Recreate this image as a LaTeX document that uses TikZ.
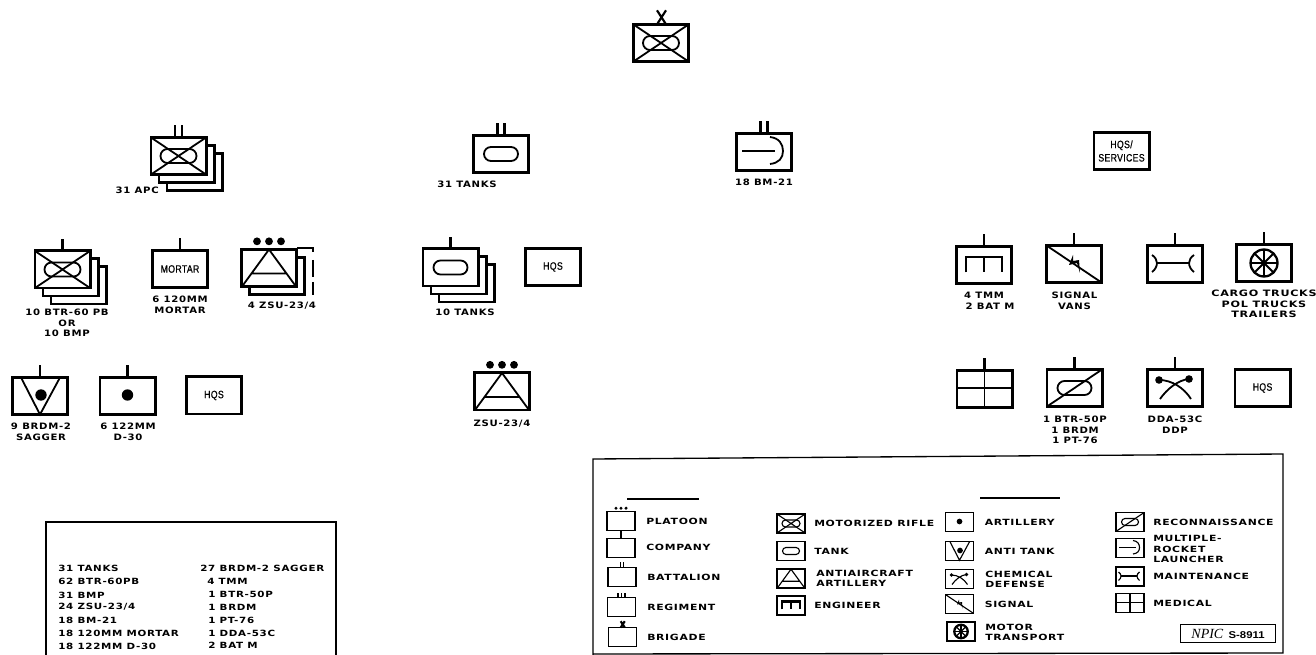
\documentclass[tikz,border=0pt]{standalone}
\usepackage{fontspec}
\setmainfont{DejaVu Sans}[FakeStretch=1.15,LetterSpace=8]
\newfontfamily\keyfont{DejaVu Sans}[FakeStretch=1.27,LetterSpace=8]
\newfontfamily\totfont{DejaVu Sans}[FakeStretch=1.21,LetterSpace=8]
\newfontfamily\thinfont{Liberation Sans}[FakeStretch=0.82,LetterSpace=3,FakeBold=0.5]
\newfontfamily\npicfont{Liberation Serif}
\newfontfamily\npicnum{Liberation Sans}[FakeStretch=1.15]
\usetikzlibrary{positioning}
\tikzset{
  every picture/.style={x=0.75pt, y=-0.75pt, line join=miter},
  unit/.style={draw, fill=white, line width=2pt, minimum width=41.5pt, minimum height=28pt, inner sep=0pt, outer sep=0pt, align=center, font=\thinfont\fontsize{8}{10}\selectfont},
  legunit/.style={draw, fill=white, line width=0.95pt, minimum width=21pt, minimum height=14.2pt, inner sep=0pt, outer sep=0pt},
  lab/.style={inner sep=0pt, align=center, font=\bfseries\fontsize{6.6}{8}\selectfont},
  leg/.style={inner sep=0pt, anchor=west, align=left, font=\keyfont\bfseries\fontsize{6.4}{7.6}\selectfont},
  tot/.style={inner sep=0pt, anchor=west, align=left, font=\totfont\bfseries\fontsize{6.4}{7.6}\selectfont},
  frame/.style={line width=1pt},
  sym/.style={line width=1.35pt},
  echelon/.style={line width=1.7pt},
  small/.style={scale=.5, sym/.style={line width=.85pt}, echelon/.style={line width=.95pt}},
  % symbols, box is 56 by 38 around the origin
  pics/mr/.style={code={
    \draw[sym] (-27.5,-18.5) -- (27.5,18.5) (-27.5,18.5) -- (27.5,-18.5);
    \draw[sym] (-11,-7) -- (11,-7) arc[start angle=-90, end angle=90, radius=7] -- (-11,7) arc[start angle=90, end angle=270, radius=7] -- cycle;
  }},
  pics/tank/.style={code={
    \draw[sym] (-10,-7) -- (10,-7) arc[start angle=-90, end angle=90, radius=7] -- (-10,7) arc[start angle=90, end angle=270, radius=7] -- cycle;
  }},
  pics/recon/.style={code={
    \draw[sym] (-27.5,18.5) -- (27.5,-18.5);
    \draw[sym] (-10,-7) -- (10,-7) arc[start angle=-90, end angle=90, radius=7] -- (-10,7) arc[start angle=90, end angle=270, radius=7] -- cycle;
  }},
  pics/aa/.style={code={
    \draw[sym] (-27,18.5) -- (0,-18.5) -- (27,18.5) (-17,5.5) -- (17,5.5);
  }},
  pics/eng/.style={code={
    \draw[sym, line width=1.8pt] (-18,7.5) -- (-18,-8) -- (18,-8) -- (18,7.5) (0,-8) -- (0,7.5);
  }},
  pics/art/.style={code={
    \fill (0,-1) circle[radius=5.7];
  }},
  pics/antitank/.style={code={
    \draw[sym] (-19,-18.5) -- (0,18.5) -- (20,-18.5);
    \fill (1,-1) circle[radius=5.7];
  }},
  pics/chem/.style={code={
    \draw[sym] (-16,-8) .. controls (-3,-8) and (9,0) .. (16,11);
    \draw[sym] (14,-9) .. controls (3,-8) and (-8,1) .. (-15,11);
    \fill (-16,-8) circle[radius=3.8] (14,-9) circle[radius=3.8];
  }},
  pics/signal/.style={code={
    \draw[sym] (-27.5,-18.5) -- (27.5,18.5);
    \fill (-1,-9) -- (-5,1) -- (3,-1) -- (6,9) -- (5,-4) -- (-1,-3) -- cycle;
  }},
  pics/wheel/.style={code={
    \draw[sym, line width=1.7pt] (0,0) circle[radius=13.5];
    \foreach \a in {0,45,...,315}
      \draw[sym] (0,0) -- (\a:13.5);
    \fill (0,0) circle[radius=2.6];
  }},
  pics/mrl/.style={code={
    \draw[sym] (-22,-1) -- (11,-1);
    \draw[sym] (6,-15) .. controls (15,-14) and (19,-8) .. (19,-1) .. controls (19,6) and (15,11) .. (6,12);
  }},
  pics/maint/.style={code={
    \draw[sym] (-18,-1) -- (14,-1);
    \draw[sym] (-23,-9) .. controls (-20,-7) and (-18,-4) .. (-18,-1) .. controls (-18,2) and (-20,6) .. (-23,8);
    \draw[sym] (19,-9) .. controls (16,-7) and (14,-4) .. (14,-1) .. controls (14,2) and (16,6) .. (19,8);
  }},
  pics/med/.style={code={
    \draw[sym] (-27.5,-1) -- (27.5,-1) (0,-18.5) -- (0,18.5);
  }},
  % echelon marks, drawn up from the top edge
  pics/coy/.style={code={\draw[echelon] (0,0) -- (0,-12);}},
  pics/bn/.style={code={\draw[echelon] (-3.5,0) -- (-3.5,-12) (3.5,0) -- (3.5,-12);}},
  pics/rgt/.style={code={\draw[echelon] (-7,0) -- (-7,-10) (0,0) -- (0,-10) (7,0) -- (7,-10);}},
  pics/plt/.style={code={\fill (-12,-8) circle[radius=3.9] (0,-8) circle[radius=3.9] (12,-8) circle[radius=3.9];}},
  pics/bde/.style={code={\draw[line width=1.6pt] (-4,-14) -- (5,0) (5,-14) -- (-4,0);}},
}
% three sheets, the front one is #1
\newcommand{\stacked}[3]{
  \node[unit] (#1c) at (#2+16,#3+16) {};
  \node[unit] (#1b) at (#2+8,#3+8) {};
  \node[unit] (#1) at (#2,#3) {};
}
\begin{document}
\begin{tikzpicture}
  \useasboundingbox (0,0) rectangle (1316,655);
  % brigade
  \node[unit] (bde) at (661,43) {};
  \pic at (bde) {mr};
  \pic at (bde.north) {bde};
  % battalions
  \stacked{mrbn}{178.5}{156}
  \pic at (mrbn) {mr};
  \pic at (mrbn.north) {bn};
  \node[lab, anchor=east] (apc) at (159,190) {31 APC};
  \node[unit] (tkbn) at (501,154) {};
  \pic at (tkbn) {tank};
  \pic at (tkbn.north) {bn};
  \node[lab] (tkbnl) at (467,184) {31 TANKS};
  \node[unit] (mrlbn) at (764,152) {};
  \pic at (mrlbn) {mrl};
  \pic at (mrlbn.north) {bn};
  \node[lab] (mrlbnl) at (764,182) {18 BM-21};
  \node[unit] (svc) at (1121.5,151) {HQS/\\SERVICES};
  % rifle battalion, second row
  \stacked{mrco}{62.5}{269.5}
  \pic at (mrco) {mr};
  \pic at (mrco.north) {coy};
  \node[lab] (mrcol) at (67,323) {10 BTR-60 PB\\OR\\10 BMP};
  \node[unit] (mort) at (180,269) {MORTAR};
  \pic at (mort.north) {coy};
  \node[lab] (mortl) at (180,305) {6 120MM\\MORTAR};
  % the third sheet is dashed
  \coordinate (zsua) at (297,248);
  \coordinate (zsub) at (313,248);
  \coordinate (zsuc) at (313,295);
  \draw[line width=2pt, dash pattern=on 15pt off 6pt on 12.75pt off 3.75pt on 9.75pt] (zsua) -- (zsub) -- (zsuc);
  \node[unit] (zsub2) at (277,276) {};
  \node[unit] (zsu) at (269,268) {};
  \pic at (zsu) {aa};
  \pic at (zsu.north) {plt};
  \node[lab] (zsul) at (282,306) {4 ZSU-23/4};
  % rifle battalion, third row
  \node[unit] (sag) at (40,396) {};
  \pic at (sag) {antitank};
  \pic at (sag.north) {coy};
  \node[lab] (sagl) at (41,431.5) {9 BRDM-2\\SAGGER};
  \node[unit] (dth) at (127.5,396) {};
  \pic at (dth) {art};
  \pic at (dth.north) {coy};
  \node[lab] (dthl) at (128,431.5) {6 122MM\\D-30};
  \node[unit] (hqa) at (214,395.5) {HQS};
  % tank battalion
  \stacked{tkco}{450.5}{267.5}
  \pic at (tkco) {tank};
  \pic at (tkco.north) {coy};
  \node[lab] (tkcol) at (465,312) {10 TANKS};
  \node[unit] (hqb) at (553,267) {HQS};
  \node[unit] (zsb) at (502,391.5) {};
  \pic at (zsb) {aa};
  \pic at (zsb.north) {plt};
  \node[lab] (zsbl) at (502,424) {ZSU-23/4};
  % services, upper row
  \node[unit] (tmm) at (984,265) {};
  \pic at (tmm) {eng};
  \pic at (tmm.north) {coy};
  \node[lab] (tmma) at (984,295) {4 TMM};
  \node[lab] (tmmb) at (990,306) {2 BAT M};
  \node[unit] (sig) at (1074,264) {};
  \pic at (sig) {signal};
  \pic at (sig.north) {coy};
  \node[lab] (sigl) at (1074.5,300.5) {SIGNAL\\VANS};
  \node[unit] (mnt) at (1175,264) {};
  \pic at (mnt) {maint};
  \pic at (mnt.north) {coy};
  \node[unit] (trn) at (1264,263) {};
  \pic at (trn) {wheel};
  \pic at (trn.north) {coy};
  \node[lab, font=\keyfont\bfseries\fontsize{6.6}{8}\selectfont] (trnl) at (1264,304) {CARGO TRUCKS\\POL TRUCKS\\TRAILERS};
  % services, lower row
  \node[unit] (med) at (984.5,389) {};
  \pic at (med) {med};
  \pic at (med.north) {coy};
  \node[unit] (rec) at (1074.5,388) {};
  \pic at (rec) {recon};
  \pic at (rec.north) {coy};
  \node[lab] (recl) at (1075,430) {1 BTR-50P\\1 BRDM\\1 PT-76};
  \node[unit] (chm) at (1175,388) {};
  \pic at (chm) {chem};
  \pic at (chm.north) {coy};
  \node[lab] (chml) at (1175,425) {DDA-53C\\DDP};
  \node[unit] (hqc) at (1262.5,388) {HQS};
  % totals
  \draw[frame] (46,655) -- (46,522) -- (336,522) -- (336,655);
  \foreach \n/\y/\t in {a/568/31 TANKS, b/581/62 BTR-60PB, c/595/31 BMP, d/607/{24 ZSU-23/4}, e/620/18 BM-21, f/633/18 120MM MORTAR, g/646/18 122MM D-30}
    \node[tot] (tl\n) at (58,\y) {\t};
  \node[tot] (tra) at (200,568) {27 BRDM-2 SAGGER};
  \foreach \n/\y/\x/\t in {b/581/207/4 TMM, c/594/208/1 BTR-50P, d/607/208/1 BRDM, e/620/208/1 PT-76, f/633/208/1 DDA-53C, g/645/208/2 BAT M}
    \node[tot] (tr\n) at (\x,\y) {\t};
  % key
  \draw[frame] (593,655) -- (593,459) -- (1283,454) -- (1283,653) -- (593,654);
  \draw[frame] (627,499) -- (699,499);
  \draw[frame] (980,498) -- (1060,498);
  \node[legunit] (kplt) at (621,521) {};
  \pic[scale=.42] at (kplt.north) {plt};
  \node[leg] (kpltl) at (646,521) {PLATOON};
  \node[legunit] (kcoy) at (621,548) {};
  \draw[line width=0.95pt] (kplt) -- (kcoy);
  \node[leg] (kcoyl) at (646,547) {COMPANY};
  \node[legunit] (kbn) at (622,577) {};
  \pic[small] at (kbn.north) {bn};
  \node[leg] (kbnl) at (647,577) {BATTALION};
  \node[legunit] (krg) at (621.5,607) {};
  \pic[small] at (krg.north) {rgt};
  \node[leg] (krgl) at (647,607) {REGIMENT};
  \node[legunit] (kbd) at (622.5,637) {};
  \pic[scale=.45] at (kbd.north) {bde};
  \node[leg] (kbdl) at (647,637) {BRIGADE};
  % first column
  \foreach \n/\p/\y/\t in {mr/mr/523.5/MOTORIZED RIFLE, tk/tank/551/TANK, eg/eng/605.5/ENGINEER}{
    \node[legunit] (k\n) at (791,\y) {};
    \pic[small] at (k\n) {\p};
    \node[leg] (k\n l) at (814,\y) {\t};
  }
  \node[legunit] (kaa) at (791,578.5) {};
  \pic[small] at (kaa) {aa};
  \node[leg] (kaal) at (816,578) {ANTIAIRCRAFT\\ARTILLERY};
  % second column
  \foreach \n/\p/\y/\t in {ar/art/522/ARTILLERY, at/antitank/551/ANTI TANK, sg/signal/604/SIGNAL}{
    \node[legunit] (k\n) at (959.5,\y) {};
    \pic[small] at (k\n) {\p};
    \node[leg] (k\n l) at (984.5,\y) {\t};
  }
  \node[legunit] (kch) at (959.5,579) {};
  \pic[small] at (kch) {chem};
  \node[leg] (kchl) at (985,579) {CHEMICAL\\DEFENSE};
  \node[legunit] (kmt) at (961,631.5) {};
  \pic[small] at (kmt) {wheel};
  \node[leg] (kmtl) at (985,632.5) {MOTOR\\TRANSPORT};
  % third column
  \foreach \n/\p/\y/\t in {rc/recon/522/RECONNAISSANCE, mn/maint/576.5/MAINTENANCE, md/med/603/MEDICAL}{
    \node[legunit] (k\n) at (1130,\y) {};
    \pic[small] at (k\n) {\p};
    \node[leg] (k\n l) at (1153,\y) {\t};
  }
  \node[legunit] (kml) at (1130,548) {};
  \pic[small] at (kml) {mrl};
  \node[leg] (kmll) at (1153,549) {MULTIPLE-\\ROCKET\\LAUNCHER};
  \node[draw, line width=0.8pt, minimum width=71pt, minimum height=13.5pt, inner sep=0pt, outer sep=0pt] (npic) at (1228,633.5) {{\npicfont\itshape\fontsize{10.5}{11}\selectfont NPIC}\hspace{4pt}{\npicnum\bfseries\fontsize{7.4}{8}\selectfont S-8911}};
\end{tikzpicture}
\end{document}
